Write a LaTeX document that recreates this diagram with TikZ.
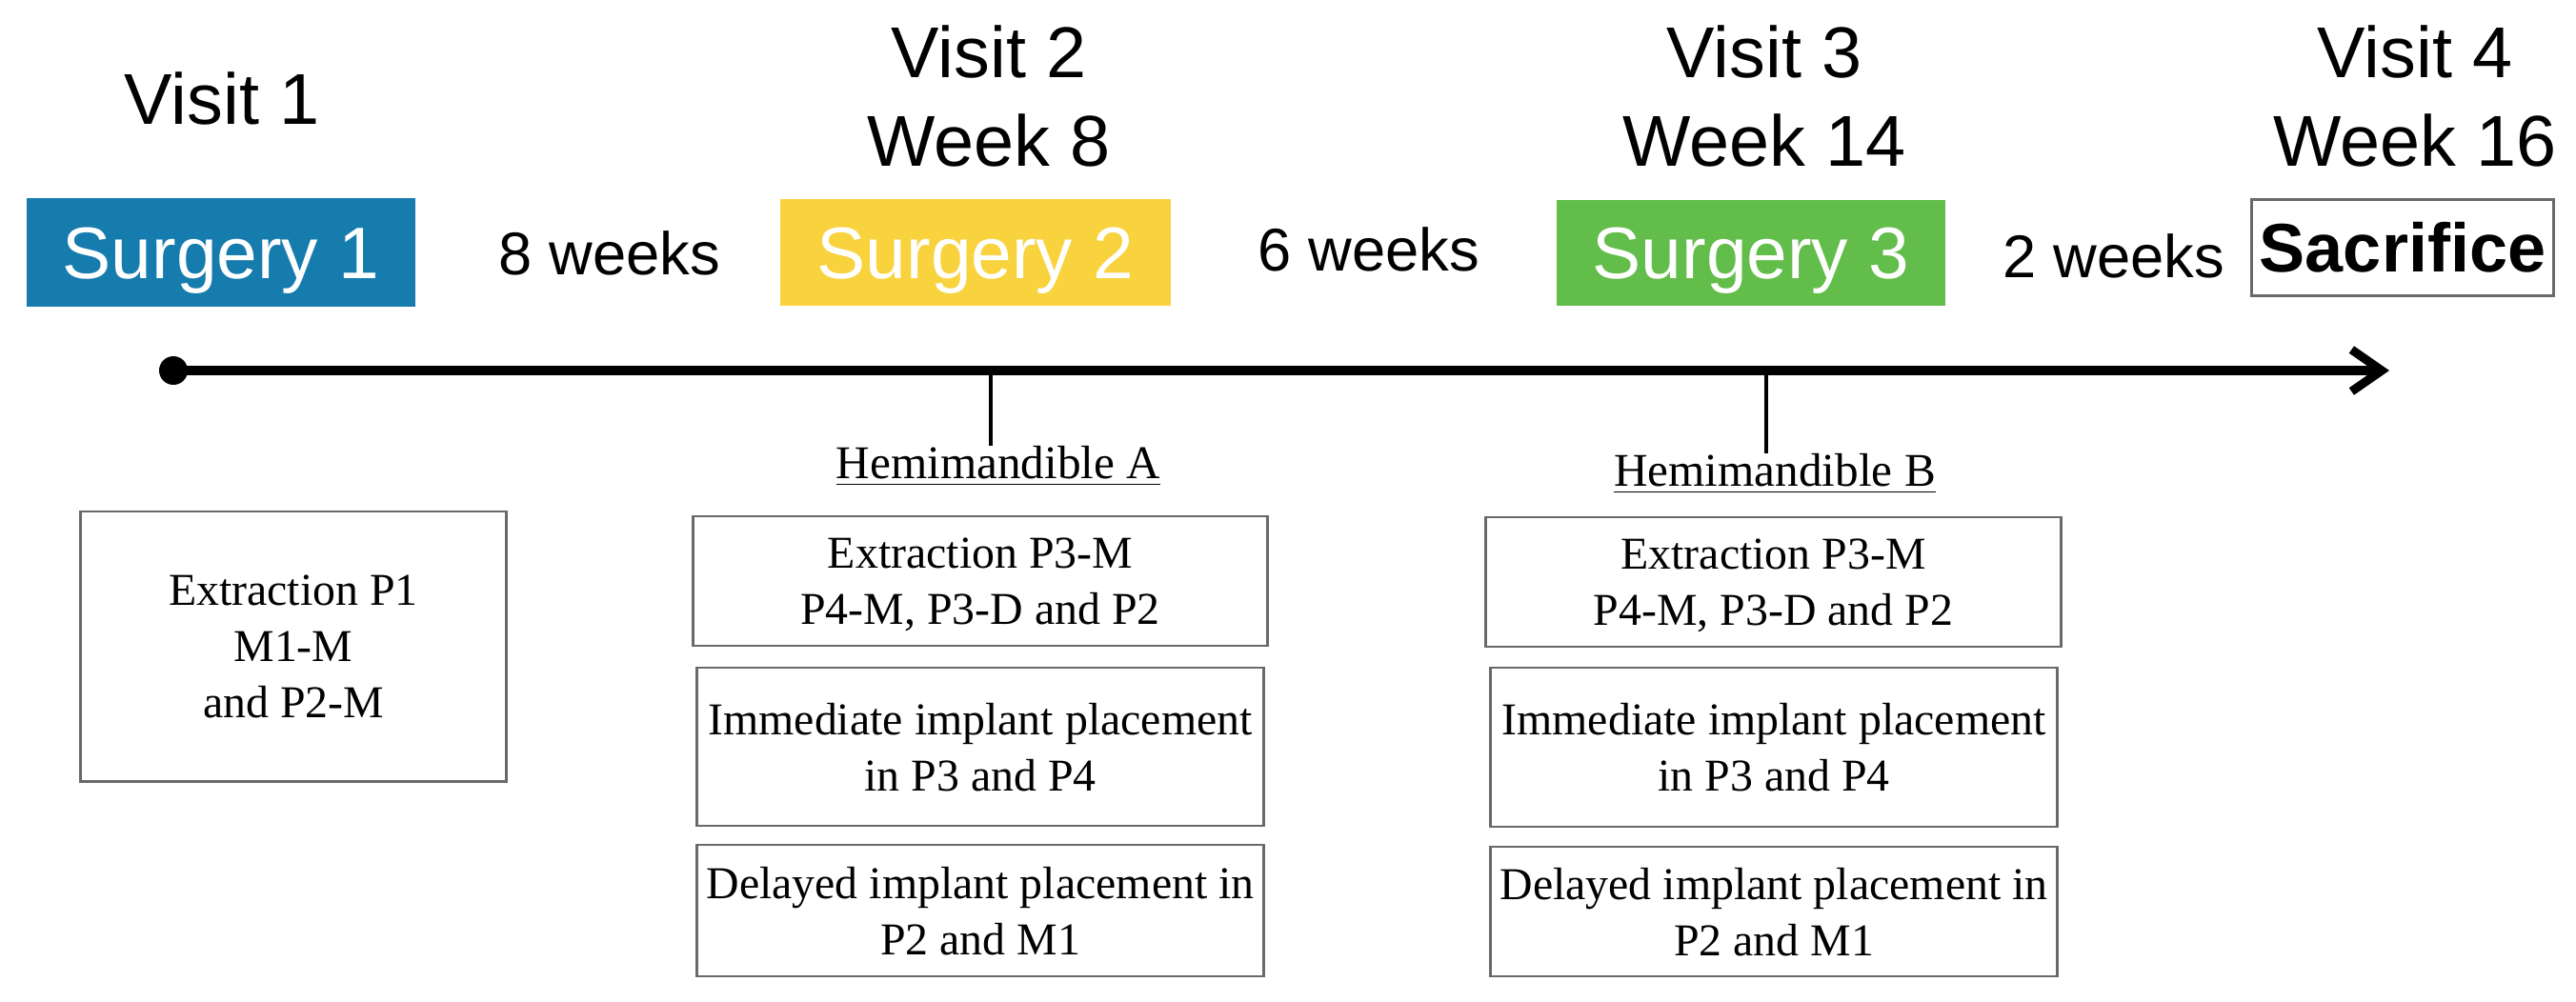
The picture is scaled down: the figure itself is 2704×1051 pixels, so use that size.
\documentclass[tikz,border=0pt]{standalone}
\usepackage{fontspec}
\setmainfont{Liberation Serif}
\newfontfamily\sansf{Liberation Sans}
\usetikzlibrary{arrows.meta}
\definecolor{sblue}{RGB}{22,124,174}
\definecolor{syellow}{RGB}{248,211,62}
\definecolor{sgreen}{RGB}{98,189,74}
\definecolor{boxgray}{RGB}{105,105,105}
\begin{document}
\begin{tikzpicture}[x=0.01cm,y=-0.01cm,
  visit/.style={anchor=base,inner sep=0pt,font=\sansf\fontsize{21.5}{25}\selectfont},
  surg/.style={rectangle,inner sep=0pt,text=white,text height=15.4pt,text depth=0pt,
    font=\sansf\fontsize{21.8}{26}\selectfont},
  sacr/.style={rectangle,draw=boxgray,line width=1pt,inner sep=0pt,text height=14.7pt,text depth=0pt,
    font=\sansf\bfseries\fontsize{20.5}{24}\selectfont},
  wk/.style={inner sep=0pt,text height=12.9pt,text depth=0pt,font=\sansf\fontsize{18}{22}\selectfont},
  dot/.style={circle,fill=black,inner sep=0pt,minimum size=0.3cm},
  timeline/.style={line width=2.6pt,-{Straight Barb[length=9pt,width=12.5pt]}},
  tick/.style={line width=1pt},
  hem/.style={inner sep=0pt,font=\fontsize{14}{17}\selectfont},
  ebox/.style={rectangle,draw=boxgray,line width=0.8pt,align=center,inner sep=2pt,
    text depth=0pt,font=\fontsize{13.6}{16.8}\selectfont}
]
\fill[white] (0,0) rectangle (2704,1051);
\useasboundingbox (0,0) rectangle (2704,1051);

% visit headings
\node[visit] (v1) at (233,130) {Visit 1};
\node[visit] (v2) at (1038,81) {Visit 2};
\node[visit] (w2) at (1038,174) {Week 8};
\node[visit] (v3) at (1852,81) {Visit 3};
\node[visit] (w3) at (1852,174) {Week 14};
\node[visit] (v4) at (2535,81) {Visit 4};
\node[visit] (w4) at (2535,174) {Week 16};

% surgeries
\node[surg,fill=sblue,minimum width=4.08cm,minimum height=1.14cm] (s1) at (232,265) {Surgery 1};
\node[surg,fill=syellow,minimum width=4.10cm,minimum height=1.12cm] (s2) at (1024,265) {Surgery 2};
\node[surg,fill=sgreen,minimum width=4.08cm,minimum height=1.11cm] (s3) at (1838,265.5) {Surgery 3};
\node[sacr,minimum width=3.17cm,minimum height=1.01cm] (sac) at (2522,260) {Sacrifice};

% intervals
\node[wk] (g1) at (640,266) {8 weeks};
\node[wk] (g2) at (1437,262) {6 weeks};
\node[wk] (g3) at (2219,269) {2 weeks};

% timeline
\node[dot] (t0) at (182,389) {};
\coordinate (t1) at (2508,389);
\draw[timeline] (t0.center) -- (t1);

% hemimandible labels and ticks
\coordinate (ta) at (1040,389);
\coordinate (tb) at (1854,389);
\node[hem,anchor=north] (ha) at (1048,468) {\underline{Hemimandible A}};
\node[hem,anchor=north] (hb) at (1863,476) {\underline{Hemimandible B}};
\draw[tick] (ta) -- (ta |- ha.north);
\draw[tick] (tb) -- (tb |- hb.north);

% boxes
\node[ebox,minimum width=4.46cm,minimum height=2.83cm] (e1) at (308,678.5) {Extraction P1\\M1-M\\and P2-M};
\node[ebox,minimum width=6.02cm,minimum height=1.36cm] (a1) at (1029,610) {Extraction P3-M\\P4-M, P3-D and P2};
\node[ebox,minimum width=5.94cm,minimum height=1.66cm] (a2) at (1029,784) {Immediate implant placement\\in P3 and P4};
\node[ebox,minimum width=5.94cm,minimum height=1.38cm] (a3) at (1029,956) {Delayed implant placement in\\P2 and M1};
\node[ebox,minimum width=6.03cm,minimum height=1.36cm] (b1) at (1861.5,611) {Extraction P3-M\\P4-M, P3-D and P2};
\node[ebox,minimum width=5.94cm,minimum height=1.67cm] (b2) at (1862,784.5) {Immediate implant placement\\in P3 and P4};
\node[ebox,minimum width=5.94cm,minimum height=1.36cm] (b3) at (1862,957) {Delayed implant placement in\\P2 and M1};
\end{tikzpicture}
\end{document}
